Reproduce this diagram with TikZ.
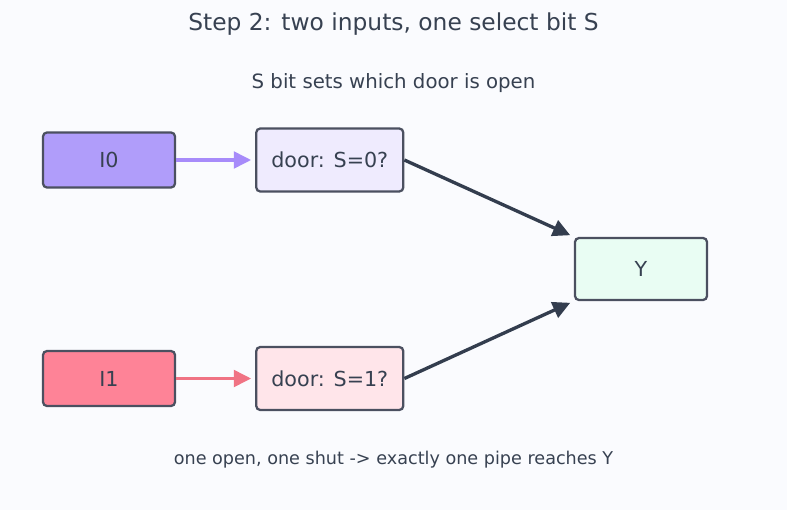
\documentclass[tikz,border=0pt]{standalone}
\usepackage{fontspec}
\setmainfont{DejaVu Sans}
\usepackage{tikz}
\usetikzlibrary{arrows.meta, positioning}
\usepackage{xcolor}

\definecolor{bgpage}{HTML}{FAFBFE}
\definecolor{inkgray}{HTML}{374151}
\definecolor{edgegray}{HTML}{4B5060}
\definecolor{lineslate}{HTML}{333D4E}
\definecolor{violetin}{HTML}{B09DFA}
\definecolor{violetline}{HTML}{A78BFA}
\definecolor{violetdoor}{HTML}{EFEBFE}
\definecolor{rosein}{HTML}{FE8397}
\definecolor{roseline}{HTML}{F07384}
\definecolor{rosedoor}{HTML}{FFE5EA}
\definecolor{mintout}{HTML}{E9FDF3}

\begin{document}
\begin{tikzpicture}[
  x=0.75pt, y=-0.75pt,
  inbox/.style={
    rectangle, draw=edgegray, line width=1.7pt, rounded corners=3pt,
    minimum width=99pt, minimum height=41.25pt,
    text centered, text=inkgray, font=\fontsize{15.5}{18}\selectfont
  },
  doorbox/.style={
    inbox, minimum width=110.25pt, minimum height=47.25pt
  },
  outbox/.style={
    inbox, minimum height=46.5pt, fill=mintout
  },
  note/.style={text=inkgray},
  feed/.style={-{Triangle[length=13pt, width=12.5pt]}, line width=2.4pt, shorten >=3pt},
  pipe/.style={-{Triangle[length=13pt, width=12.5pt]}, line width=2.5pt, draw=lineslate, shorten >=3pt}
]
\useasboundingbox[fill=bgpage] (0,0) rectangle (787,510);

\node[note, font=\fontsize{17.5}{21}\selectfont] (title) at (393.5,24) {Step 2: two inputs, one select bit S};
\node[note, font=\fontsize{14.8}{18}\selectfont] (sub) at (393.5,83) {S bit sets which door is open};

\node[inbox, fill=violetin] (i0) at (109,160) {I0};
\node[doorbox, fill=violetdoor, right=59.25pt of i0] (d0) {door: S=0?};
\node[inbox, fill=rosein] (i1) at (109,378.5) {I1};
\node[doorbox, fill=rosedoor, right=59.25pt of i1] (d1) {door: S=1?};
\node[outbox] (y) at (641,269) {Y};

\node[note, font=\fontsize{13.2}{16}\selectfont] (foot) at (393.5,460) {one open, one shut -> exactly one pipe reaches Y};

\draw[feed, draw=violetline, fill=violetline] (i0.east) -- (d0.west);
\draw[feed, draw=roseline, fill=roseline] (i1.east) -- (d1.west);
\draw[pipe, fill=lineslate] (d0.east) -- (y.north west);
\draw[pipe, fill=lineslate] (d1.east) -- (y.south west);

\end{tikzpicture}
\end{document}
